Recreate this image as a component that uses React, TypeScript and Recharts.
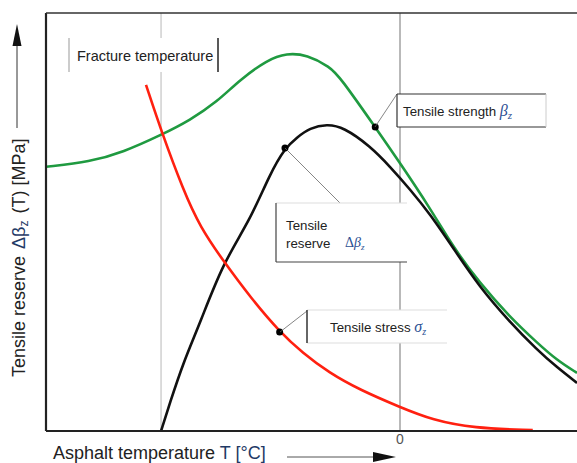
import React from 'react';
import { LineChart, Line, XAxis, YAxis, ReferenceLine } from 'recharts';

// asphalt temperature T [°C] and stress values [MPa]
const strengthT = [-40, -35.0, -31.3, -27.0, -23.7, -20.7, -18.1, -15.0, -12.8, -10.5, -7.9, -6.8, -2.8, 0, 3.4, 6.0, 9.0, 12.4, 15.5, 17.7, 20];
const strengthV = [6.32, 6.44, 6.67, 7.08, 7.44, 7.87, 8.4, 8.88, 9.04, 9.0, 8.71, 8.47, 7.27, 6.41, 5.33, 4.4, 3.54, 2.73, 2.11, 1.7, 1.39];

const reserveT = [-27.0, -26.0, -24.5, -22.6, -20.0, -16.95, -14.7, -13.0, -11.6, -10.2, -8.25, -6.4, -3.4, -1.1, 1.1, 3.4, 6.0, 9.0, 12.4, 15.5, 17.7, 20];
const reserveV = [0, 0.67, 1.63, 2.58, 4.02, 5.04, 6.15, 6.77, 7.03, 7.25, 7.34, 7.27, 6.82, 6.32, 5.79, 5.19, 4.38, 3.44, 2.61, 1.94, 1.53, 1.15];

const stressT = [-28.7, -26.9, -24.5, -22.6, -19.8, -16.95, -13.6, -11.0, -8.0, -4.5, 0, 3.7, 8.25, 15.0];
const stressV = [8.28, 7.13, 5.77, 4.88, 4.02, 3.21, 2.37, 1.87, 1.39, 0.98, 0.57, 0.26, 0.07, 0.02];

// points where the callouts are attached
const strengthMark = -2.8;
const reserveMark = -13.0;
const stressMark = -13.6;

const fractureTemp = -27.0;
const xTicks = [0];

const toRows = (t: number[], v: number[]) => t.map((T, i) => ({ T, v: v[i] }));
const strength = toRows(strengthT, strengthV);
const reserve = toRows(reserveT, reserveV);
const stress = toRows(stressT, stressV);

const markDot = (mark: number) => (props: any) => {
  const { cx, cy, payload, index } = props;
  if (payload && payload.T === mark) {
    return <circle key={`m${index}`} cx={cx} cy={cy} r={3.5} fill="#000" />;
  }
  return <g key={`n${index}`} />;
};

const font = 'Liberation Sans, Arial, sans-serif';
const symbol = { fontFamily: 'Liberation Serif, Times New Roman, serif', fontStyle: 'italic' as const, fill: '#2c4f93' };

const Overlay = () => (
  <svg width={577} height={463} style={{ position: 'absolute', left: 0, top: 0, pointerEvents: 'none' }} fontFamily={font}>
    {/* y axis title + arrow */}
    <line x1={17} y1={128} x2={17} y2={44} stroke="#333" strokeWidth={1} />
    <polygon points="17,24 12.5,46 21.5,46" fill="#111" />
    <text x={25} y={377} transform="rotate(-90 25 377)" fontSize={18} fill="#222">
      Tensile reserve <tspan dx={2} fill="#1f3a66">Δβ</tspan>
      <tspan fontSize={12} dy={3} fill="#1f3a66">z</tspan>
      <tspan dy={-3} dx={2}> (T) [MPa]</tspan>
    </text>

    {/* x axis title + arrow */}
    <text x={53} y={459} fontSize={18} fill="#222">
      Asphalt temperature <tspan fill="#1f3a66">T [°C]</tspan>
    </text>
    <line x1={287} y1={457} x2={378} y2={457} stroke="#555" strokeWidth={1} />
    <polygon points="373,452 396,457 373,462" fill="#111" />

    {/* fracture temperature */}
    <rect x={69} y={38} width={149} height={34} fill="#fff" />
    <line x1={69} y1={38} x2={69} y2={72} stroke="#999" strokeWidth={1} />
    <line x1={218} y1={38} x2={218} y2={72} stroke="#222" strokeWidth={1.5} />
    <text x={77} y={61} fontSize={14.5} fill="#222">Fracture temperature</text>

    {/* tensile strength */}
    <line x1={375} y1={127} x2={397} y2={94} stroke="#666" strokeWidth={0.8} />
    <rect x={397} y={94} width={149} height={33} fill="#fff" />
    <line x1={397} y1={94} x2={546} y2={94} stroke="#333" strokeWidth={1.2} />
    <line x1={397} y1={127} x2={546} y2={127} stroke="#333" strokeWidth={1.2} />
    <line x1={397} y1={94} x2={397} y2={127} stroke="#333" strokeWidth={1.2} />
    <line x1={546} y1={94} x2={546} y2={127} stroke="#ccc" strokeWidth={1} />
    <text x={403} y={116} fontSize={13.3} fill="#222">
      Tensile strength <tspan {...symbol} fontSize={16}>β</tspan>
      <tspan {...symbol} fontSize={11} dy={3}>z</tspan>
    </text>

    {/* tensile reserve */}
    <line x1={285} y1={148} x2={340} y2={203} stroke="#666" strokeWidth={0.8} />
    <rect x={276} y={203} width={131} height={59} fill="#fff" />
    <line x1={276} y1={203} x2={407} y2={203} stroke="#ddd" strokeWidth={1} />
    <line x1={276} y1={203} x2={276} y2={262} stroke="#444" strokeWidth={1.2} />
    <line x1={276} y1={262} x2={407} y2={262} stroke="#444" strokeWidth={1.2} />
    <text x={286} y={230} fontSize={13.3} fill="#222">Tensile</text>
    <text x={286} y={248} fontSize={13.3} fill="#222">reserve</text>
    <text x={345} y={247} fontSize={14} {...symbol}>
      <tspan fontStyle="normal">Δ</tspan>β<tspan fontSize={9} dy={3}>z</tspan>
    </text>

    {/* tensile stress */}
    <line x1={280} y1={332} x2={307} y2={311} stroke="#666" strokeWidth={0.8} />
    <rect x={307} y={310} width={140} height={33} fill="#fff" />
    <line x1={307} y1={310} x2={447} y2={310} stroke="#ddd" strokeWidth={1} />
    <line x1={307} y1={343} x2={447} y2={343} stroke="#ddd" strokeWidth={1} />
    <line x1={307} y1={310} x2={307} y2={343} stroke="#333" strokeWidth={1.5} />
    <text x={330} y={332} fontSize={13.3} fill="#222">
      Tensile stress <tspan {...symbol} fontSize={16}>σ</tspan>
      <tspan {...symbol} fontSize={10} dy={3}>z</tspan>
    </text>
  </svg>
);

export default function App() {
  return (
    <div style={{ position: 'absolute', left: 0, top: 0, width: 577, height: 463, background: '#fff' }}>
      <LineChart width={577} height={463} margin={{ top: 13, right: 0, bottom: 2, left: 46 }}>
        <XAxis
          type="number"
          dataKey="T"
          domain={[-40, 20]}
          ticks={xTicks}
          axisLine={false}
          tickLine={false}
          tickSize={0}
          tickMargin={3}
          height={30}
          tick={{ fill: '#555', fontSize: 14, fontFamily: font }}
          allowDataOverflow
        />
        <YAxis type="number" domain={[0, 10]} hide width={0} allowDataOverflow />

        <ReferenceLine x={fractureTemp} stroke="#c4c4c4" strokeWidth={1.2} />
        <ReferenceLine x={0} stroke="#8a8a8a" strokeWidth={1.2} />

        <Line data={strength} dataKey="v" type="basis" stroke="#1f9a40" strokeWidth={2.6} dot={markDot(strengthMark)} activeDot={false} isAnimationActive={false} />
        <Line data={reserve} dataKey="v" type="basis" stroke="#111" strokeWidth={2.6} dot={markDot(reserveMark)} activeDot={false} isAnimationActive={false} />
        <Line data={stress} dataKey="v" type="basis" stroke="#ff2010" strokeWidth={2.6} dot={markDot(stressMark)} activeDot={false} isAnimationActive={false} />

        <ReferenceLine x={-40} stroke="#222" strokeWidth={2.2} />
        <ReferenceLine y={0} stroke="#222" strokeWidth={2.2} />
        <ReferenceLine y={10} stroke="#333" strokeWidth={1.6} />
      </LineChart>
      <Overlay />
    </div>
  );
}
